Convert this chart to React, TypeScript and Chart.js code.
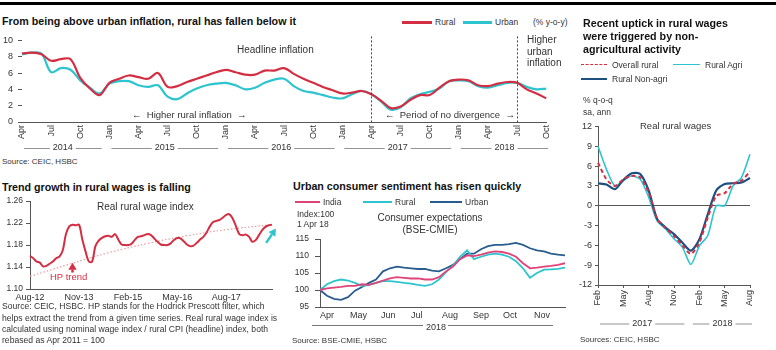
import React, { useEffect, useRef } from "react";
import { Chart, registerables } from "chart.js";

Chart.register(...registerables);

const FONT = "'Liberation Sans', Arial, Helvetica, sans-serif";
Chart.defaults.font.family = FONT;
Chart.defaults.color = "#333";

const RED = "#d42e43";
const CYAN = "#2cc4cf";
const NAVY = "#1d4f80";
const PINK = "#e0437a";
const TEXT = "#333";
const AXIS = "#555";

const MONTHS = ["Jan", "Feb", "Mar", "Apr", "May", "Jun", "Jul", "Aug", "Sep", "Oct", "Nov", "Dec"];
function monthLabels(year: number, month: number, count: number): string[] {
  const out: string[] = [];
  for (let i = 0; i < count; i++) {
    const m = (month + i) % 12;
    const y = year + Math.floor((month + i) / 12);
    out.push(`${MONTHS[m]} ${y}`);
  }
  return out;
}

// ---------- Panel 1: rural vs urban inflation (Apr 2014 - Oct 2018) ----------
const inflLabels = monthLabels(2014, 3, 55);
const ruralInfl = [
  8.4, 8.5, 8.3, 7.5, 7.7, 7.7, 5.4, 4.1, 3.3,
  4.8, 5.3, 5.7, 5.5, 5.3, 6.0, 4.3, 4.4, 4.9, 5.3, 5.7, 6.1,
  6.4, 6.1, 5.8, 5.8, 6.3, 6.3, 6.6, 5.9, 5.3, 4.8, 4.3, 3.9,
  3.5, 3.6, 3.8, 3.4, 2.6, 1.7, 1.9, 2.7, 3.3, 3.3, 4.2, 5.0,
  5.2, 5.1, 4.5, 4.4, 4.7, 4.9, 4.8, 4.0, 3.5, 2.9,
];
const urbanInfl = [
  8.3, 8.5, 8.4, 6.1, 6.6, 6.4, 5.1, 4.2, 3.5,
  4.7, 5.0, 5.0, 4.5, 4.3, 4.5, 3.1, 2.8, 3.5, 4.1, 4.5, 4.7,
  4.8, 4.5, 4.0, 4.2, 4.8, 5.2, 5.3, 4.4, 3.8, 3.6, 3.3, 3.0,
  2.9, 3.4, 3.8, 3.4, 2.5, 1.5, 1.8, 2.9, 3.4, 3.7, 4.1, 5.0,
  5.1, 5.0, 4.4, 4.2, 4.5, 4.8, 4.8, 4.3, 4.0, 4.1,
];
const inflTickMonths = ["Jan", "Apr", "Jul", "Oct"];
const inflYears = ["2014", "2015", "2016", "2017", "2018"];
const inflDividers = ["Apr 2017", "Jul 2018"];

// ---------- Panel 2: real rural wages (Feb 2017 - Aug 2018) ----------
const wageLabels = monthLabels(2017, 1, 19);
const overallRural = [6.5, 4.0, 3.0, 4.0, 4.5, 4.3, 2.0, -2.0, -3.4, -4.6, -6.0, -7.3, -5.6, -1.8, 1.5, 1.9, 3.3, 3.8, 5.2];
const ruralAgri = [9.0, 5.5, 3.0, 3.8, 4.5, 4.0, 1.3, -2.3, -3.5, -5.0, -6.3, -8.9, -6.1, -4.5, 0.0, 0.0, 3.0, 4.3, 7.8];
const ruralNonAgri = [3.4, 3.2, 2.5, 3.9, 4.9, 4.8, 2.3, -2.0, -3.3, -4.3, -5.6, -6.8, -5.1, -1.3, 2.3, 3.3, 3.4, 3.5, 4.2];
const wageTickMonths = ["Feb", "May", "Aug", "Nov"];
const wageYears = ["2017", "2018"];

// ---------- Panel 3: real rural wage index (Aug 2012 - Oct 2018) ----------
const idxLabels = monthLabels(2012, 7, 75);
const realWageIdx = [
  1.160, 1.156, 1.150, 1.148, 1.141, 1.142, 1.146, 1.150, 1.156, 1.159,
  1.170, 1.200, 1.214, 1.217, 1.216, 1.217, 1.190, 1.168, 1.150, 1.150,
  1.178, 1.188, 1.193, 1.196, 1.197, 1.195, 1.200, 1.190, 1.181, 1.180,
  1.180, 1.182, 1.189, 1.195, 1.196, 1.198, 1.200, 1.198, 1.192, 1.186,
  1.181, 1.180, 1.180, 1.183, 1.189, 1.193, 1.192, 1.187, 1.181, 1.178,
  1.179, 1.184, 1.190, 1.195, 1.203, 1.214, 1.222, 1.224, 1.226, 1.230,
  1.235, 1.236, 1.228, 1.214, 1.200, 1.198, 1.199, 1.195, 1.186, 1.189,
  1.198, 1.207, 1.213, 1.216, 1.217,
];
const hpTrendMonths = ["Aug 2012", "Aug 2013", "Aug 2014", "Aug 2015", "Aug 2016", "Aug 2017", "Oct 2018"];
const hpTrend = [1.123, 1.145, 1.166, 1.183, 1.197, 1.208, 1.217];
const idxTickLabels = ["Aug-12", "Nov-13", "Feb-15", "May-16", "Aug-17"];

// ---------- Panel 4: consumer expectations (weekly, from 1 Apr 2018) ----------
const sentDays = [0, 7, 14, 21, 28, 35, 42, 49, 56, 63, 70, 77, 84, 91, 98, 105, 112, 119, 126, 133, 140, 147, 154, 161, 168, 175, 182, 189, 196, 203, 210, 217, 224, 231, 238, 245];
const sentIndia = [100.0, 100.5, 100.7, 100.9, 101.2, 101.2, 101.7, 101.5, 102.1, 102.8, 103.4, 103.8, 103.6, 103.4, 103.4, 103.1, 103.1, 103.8, 105.5, 106.9, 109.1, 110.2, 110.0, 110.4, 111.0, 111.4, 111.2, 110.7, 109.8, 107.9, 106.4, 106.6, 106.9, 107.1, 107.4, 107.9];
const sentRural = [100.0, 101.7, 102.6, 103.1, 102.8, 102.1, 101.2, 101.5, 102.1, 102.6, 102.6, 102.4, 102.1, 101.9, 101.5, 101.2, 101.7, 103.1, 105.3, 107.2, 109.8, 111.7, 109.1, 109.8, 110.4, 110.7, 110.4, 109.8, 108.5, 106.4, 103.6, 105.0, 106.0, 106.1, 106.2, 106.6];
const sentUrban = [100.0, 98.3, 97.4, 97.1, 97.9, 99.8, 100.9, 102.1, 103.1, 105.5, 106.4, 106.9, 106.6, 106.4, 106.2, 106.2, 105.7, 105.5, 106.4, 107.4, 109.1, 110.7, 110.7, 112.0, 112.9, 113.3, 113.3, 113.5, 113.9, 113.3, 112.3, 111.7, 111.4, 110.7, 110.4, 110.2];
const sentMonthStarts = [0, 30, 61, 91, 122, 153, 183, 214];
const sentMonthNames = ["Apr", "May", "Jun", "Jul", "Aug", "Sep", "Oct", "Nov"];

// ---------- helpers ----------
const base = {
  responsive: false,
  maintainAspectRatio: false,
  animation: false,
  events: [] as any[],
};
const noLegend = { legend: { display: false }, tooltip: { enabled: false } };

function yearBandPlugin(labels: string[], years: string[], yPx: number, fontSize: number) {
  return {
    id: "yearBands",
    afterDraw(chart: any) {
      const ctx = chart.ctx;
      const xs = chart.scales.x;
      ctx.save();
      ctx.font = `${fontSize}px ${FONT}`;
      ctx.fillStyle = TEXT;
      ctx.strokeStyle = "#777";
      ctx.lineWidth = 0.8;
      ctx.textAlign = "center";
      ctx.textBaseline = "middle";
      years.forEach((yr) => {
        const idx = labels.map((l, i) => (l.endsWith(yr) ? i : -1)).filter((i) => i >= 0);
        const x0 = xs.getPixelForValue(idx[0]) + 2;
        const x1 = xs.getPixelForValue(idx[idx.length - 1]) + 2;
        const cx = (x0 + x1) / 2;
        const hw = ctx.measureText(yr).width / 2 + 3;
        ctx.fillText(yr, cx, yPx);
        ctx.beginPath();
        ctx.moveTo(x0, yPx + 0.5);
        ctx.lineTo(cx - hw, yPx + 0.5);
        ctx.moveTo(cx + hw, yPx + 0.5);
        ctx.lineTo(x1, yPx + 0.5);
        ctx.stroke();
      });
      ctx.restore();
    },
  };
}

const inflDividerPlugin = {
  id: "dividers",
  afterDatasetsDraw(chart: any) {
    const { ctx, chartArea } = chart;
    const x = chart.scales.x;
    ctx.save();
    ctx.strokeStyle = "#444";
    ctx.lineWidth = 1;
    ctx.setLineDash([2, 2]);
    inflDividers.forEach((lbl) => {
      const px = Math.round(x.getPixelForValue(inflLabels.indexOf(lbl))) + 0.5;
      ctx.beginPath();
      ctx.moveTo(px, chartArea.top - 4);
      ctx.lineTo(px, chartArea.bottom);
      ctx.stroke();
    });
    ctx.restore();
  },
};

function drawArrow(ctx: CanvasRenderingContext2D, x0: number, y0: number, x1: number, y1: number, color: string, w: number, head: number) {
  const ang = Math.atan2(y1 - y0, x1 - x0);
  const bx = x1 - Math.cos(ang) * head;
  const by = y1 - Math.sin(ang) * head;
  ctx.save();
  ctx.strokeStyle = color;
  ctx.fillStyle = color;
  ctx.lineWidth = w;
  ctx.beginPath();
  ctx.moveTo(x0, y0);
  ctx.lineTo(bx, by);
  ctx.stroke();
  ctx.beginPath();
  ctx.moveTo(x1, y1);
  ctx.lineTo(bx + Math.cos(ang + Math.PI / 2) * head * 0.6, by + Math.sin(ang + Math.PI / 2) * head * 0.6);
  ctx.lineTo(bx + Math.cos(ang - Math.PI / 2) * head * 0.6, by + Math.sin(ang - Math.PI / 2) * head * 0.6);
  ctx.closePath();
  ctx.fill();
  ctx.restore();
}

const idxArrowPlugin = {
  id: "arrows",
  afterDatasetsDraw(chart: any) {
    const { ctx } = chart;
    const x = chart.scales.x;
    const y = chart.scales.y;
    drawArrow(ctx, x.getPixelForValue(13), y.getPixelForValue(1.130), x.getPixelForValue(13), y.getPixelForValue(1.148), RED, 2.5, 7);
    drawArrow(ctx, x.getPixelForValue(72.2), y.getPixelForValue(1.184), x.getPixelForValue(75.2), y.getPixelForValue(1.210), CYAN, 2.5, 7);
  },
};

// ---------- configs ----------
const inflConfig = (): any => ({
  type: "line",
  data: {
    labels: inflLabels,
    datasets: [
      { data: ruralInfl, borderColor: RED, borderWidth: 2.2, pointRadius: 0, tension: 0.35 },
      { data: urbanInfl, borderColor: CYAN, borderWidth: 2.2, pointRadius: 0, tension: 0.35 },
    ],
  },
  options: {
    ...base,
    plugins: noLegend,
    layout: { padding: { left: 0, right: 9, top: 7, bottom: 0 } },
    scales: {
      x: {
        grid: { drawOnChartArea: false, drawTicks: false },
        border: { display: true, color: AXIS, width: 1 },
        ticks: {
          autoSkip: false,
          minRotation: 90,
          maxRotation: 90,
          padding: 3,
          font: { size: 9 },
          color: TEXT,
          callback: (_v: any, i: number) => {
            const m = inflLabels[i].slice(0, 3);
            return inflTickMonths.includes(m) ? m : "";
          },
        },
        afterFit: (s: any) => { s.height = 33; },
      },
      y: {
        min: 0,
        max: 10,
        ticks: { stepSize: 2, padding: 5, font: { size: 9 }, color: TEXT },
        grid: { drawOnChartArea: false, tickLength: 4, color: AXIS },
        border: { display: false },
        afterFit: (s: any) => { s.width = 22; },
      },
    },
  },
  plugins: [inflDividerPlugin, yearBandPlugin(inflLabels, inflYears, 118, 9)],
});

const wageConfig = (): any => ({
  type: "line",
  data: {
    labels: wageLabels,
    datasets: [
      { data: overallRural, borderColor: RED, borderWidth: 2, borderDash: [4, 3], pointRadius: 0, tension: 0.25 },
      { data: ruralNonAgri, borderColor: NAVY, borderWidth: 2.2, pointRadius: 0, tension: 0.25 },
      { data: ruralAgri, borderColor: CYAN, borderWidth: 1.6, pointRadius: 0, tension: 0.25 },
    ],
  },
  options: {
    ...base,
    plugins: noLegend,
    layout: { padding: { left: 0, right: 20, top: 8, bottom: 0 } },
    scales: {
      x: {
        grid: {
          drawOnChartArea: false,
          drawTicks: true,
          tickLength: 3,
          tickColor: (c: any) => (wageTickMonths.includes(wageLabels[c.index]?.slice(0, 3)) ? AXIS : "rgba(0,0,0,0)"),
        },
        border: { display: true, color: AXIS },
        ticks: {
          autoSkip: false,
          minRotation: 90,
          maxRotation: 90,
          padding: 2,
          font: { size: 9 },
          color: TEXT,
          callback: (_v: any, i: number) => {
            const m = wageLabels[i].slice(0, 3);
            return wageTickMonths.includes(m) ? m : "";
          },
        },
        afterFit: (s: any) => { s.height = 43; },
      },
      y: {
        min: -12,
        max: 12,
        ticks: { stepSize: 3, padding: 3, font: { size: 9 }, color: TEXT },
        grid: {
          tickLength: 3,
          tickColor: AXIS,
          color: (c: any) => (c.tick && c.tick.value === 0 ? AXIS : "rgba(0,0,0,0)"),
        },
        border: { display: true, color: AXIS },
        afterFit: (s: any) => { s.width = 33; },
      },
    },
  },
  plugins: [yearBandPlugin(wageLabels, wageYears, 205.5, 9)],
});

const idxConfig = (): any => ({
  type: "line",
  data: {
    labels: idxLabels,
    datasets: [
      { data: realWageIdx, borderColor: RED, borderWidth: 2, pointRadius: 0, tension: 0.35 },
      {
        data: hpTrendMonths.map((m, i) => ({ x: m, y: hpTrend[i] })),
        borderColor: "#eb9c9c",
        borderWidth: 1.2,
        borderDash: [1.5, 2],
        pointRadius: 0,
        tension: 0.4,
      },
    ],
  },
  options: {
    ...base,
    plugins: noLegend,
    layout: { padding: { left: 0, right: 13, top: 8, bottom: 0 } },
    scales: {
      x: {
        grid: { drawOnChartArea: false, drawTicks: false },
        border: { display: true, color: AXIS },
        ticks: {
          autoSkip: false,
          maxRotation: 0,
          minRotation: 0,
          padding: 3,
          font: { size: 9 },
          color: TEXT,
          callback: (_v: any, i: number) => {
            const l = idxLabels[i];
            const s = l.slice(0, 3) + "-" + l.slice(-2);
            return idxTickLabels.includes(s) ? s : "";
          },
        },
        afterFit: (s: any) => { s.height = 16; },
      },
      y: {
        min: 1.1,
        max: 1.26,
        ticks: { stepSize: 0.02, padding: 3, font: { size: 8.5 }, color: TEXT, callback: (v: any) => Number(v).toFixed(2) },
        grid: { drawOnChartArea: false, tickLength: 4, color: AXIS },
        border: { display: true, color: AXIS },
        afterFit: (s: any) => { s.width = 30; },
      },
    },
  },
  plugins: [idxArrowPlugin],
});

const sentConfig = (): any => ({
  type: "line",
  data: {
    datasets: [
      { data: sentDays.map((d, i) => ({ x: d, y: sentIndia[i] })), borderColor: PINK, borderWidth: 1.8, pointRadius: 0, tension: 0 },
      { data: sentDays.map((d, i) => ({ x: d, y: sentRural[i] })), borderColor: CYAN, borderWidth: 1.8, pointRadius: 0, tension: 0 },
      { data: sentDays.map((d, i) => ({ x: d, y: sentUrban[i] })), borderColor: "#2a5d8f", borderWidth: 1.8, pointRadius: 0, tension: 0 },
    ],
  },
  options: {
    ...base,
    plugins: noLegend,
    layout: { padding: { left: 0, right: 5, top: 9, bottom: 0 } },
    scales: {
      x: {
        type: "linear",
        min: 0,
        max: 245,
        afterBuildTicks: (s: any) => { s.ticks = sentMonthStarts.map((v) => ({ value: v })); },
        grid: { drawOnChartArea: false, drawTicks: false },
        border: { display: true, color: AXIS },
        ticks: {
          align: "start",
          maxRotation: 0,
          padding: 3,
          font: { size: 9 },
          color: TEXT,
          callback: (v: any) => {
            const i = sentMonthStarts.indexOf(v);
            return i >= 0 ? sentMonthNames[i] : "";
          },
        },
        afterFit: (s: any) => { s.height = 17; },
      },
      y: {
        min: 95,
        max: 115,
        ticks: { stepSize: 5, padding: 6, font: { size: 8.5 }, color: TEXT },
        grid: { drawOnChartArea: false, tickLength: 5, color: AXIS },
        border: { display: true, color: AXIS },
        afterFit: (s: any) => { s.width = 35; },
      },
    },
  },
});

// ---------- components ----------
function ChartBox(props: { left: number; top: number; width: number; height: number; config: () => any }) {
  const ref = useRef<HTMLCanvasElement>(null);
  useEffect(() => {
    const chart = new Chart(ref.current as HTMLCanvasElement, props.config());
    return () => chart.destroy();
  }, []);
  return (
    <canvas
      ref={ref}
      width={props.width}
      height={props.height}
      style={{ position: "absolute", left: props.left, top: props.top, width: props.width, height: props.height }}
    />
  );
}

// y = vertical centre of the first line of text
function T(props: { x: number; y: number; s?: number; bold?: boolean; c?: string; lh?: number; children: any }) {
  const s = props.s ?? 8.5;
  const lh = props.lh ?? s * 1.2;
  return (
    <div
      style={{
        position: "absolute",
        left: props.x,
        top: props.y - lh / 2,
        fontSize: s,
        lineHeight: `${lh}px`,
        fontWeight: props.bold ? 700 : 400,
        color: props.c ?? (props.bold ? "#111" : TEXT),
        whiteSpace: "pre",
        fontFamily: FONT,
      }}
    >
      {props.children}
    </div>
  );
}

function L(props: { x1: number; x2: number; y: number; c: string; h?: number; dash?: boolean }) {
  const h = props.h ?? 2;
  return (
    <div
      style={{
        position: "absolute",
        left: props.x1,
        top: props.y - h / 2,
        width: props.x2 - props.x1,
        height: 0,
        borderTop: `${h}px ${props.dash ? "dashed" : "solid"} ${props.c}`,
      }}
    />
  );
}

export default function App() {
  return (
    <div style={{ position: "fixed", left: 0, top: 0, width: 776, height: 350, background: "#fff", overflow: "hidden", fontFamily: FONT }}>
      <div style={{ position: "absolute", left: 0, top: 2, width: 776, height: 3, background: "#000" }} />

      {/* Panel 1 */}
      <T x={2} y={21} s={10.7} bold>From being above urban inflation, rural has fallen below it</T>
      <L x1={402} x2={432} y={22} c={RED} h={3} />
      <T x={435} y={22}>Rural</T>
      <L x1={463} x2={492} y={22} c={CYAN} h={3} />
      <T x={495} y={22}>Urban</T>
      <T x={533} y={22}>(% y-o-y)</T>
      <ChartBox left={0} top={30} width={560} height={125} config={inflConfig} />
      <T x={237} y={50} s={10}>Headline inflation</T>
      <T x={132} y={115} s={9.5}>{"\u2190  Higher rural inflation  \u2192"}</T>
      <T x={385} y={115} s={9.5}>{"\u2190  Period of no divergence  \u2192"}</T>
      <T x={527} y={40} s={10} lh={11.3}>{"Higher\nurban\ninflation"}</T>
      <T x={2} y={162} s={8}>Source: CEIC, HSBC</T>

      {/* Panel 2 */}
      <T x={583} y={23} s={10.7} bold lh={13}>{"Recent uptick in rural wages\nwere triggered by non-\nagricultural activity"}</T>
      <L x1={581} x2={607} y={65} c={RED} h={1.5} dash />
      <T x={612} y={65}>Overall rural</T>
      <L x1={673} x2={700} y={65} c={CYAN} h={1.5} />
      <T x={705} y={65}>Rural Agri</T>
      <L x1={581} x2={607} y={79} c={NAVY} h={2.5} />
      <T x={612} y={79}>Rural Non-agri</T>
      <T x={583} y={100}>% q-o-q</T>
      <T x={583} y={112}>sa, ann</T>
      <ChartBox left={565} top={118} width={205} height={210} config={wageConfig} />
      <T x={640} y={126} s={9.5}>Real rural wages</T>
      <T x={580} y={340} s={8}>Sources: CEIC, HSBC</T>

      {/* Panel 3 */}
      <T x={2} y={187} s={10.7} bold>Trend growth in rural wages is falling</T>
      <ChartBox left={0} top={193} width={285} height={112} config={idxConfig} />
      <T x={97} y={207} s={10}>Real rural wage index</T>
      <T x={50} y={277} s={9.5} c={RED}>HP trend</T>
      <T x={2} y={307} s={8.6} lh={11.3}>
        {"Source: CEIC, HSBC. HP stands for the Hodrick Prescott filter, which\nhelps extract the trend from a given time series. Real rural wage index is\ncalculated using nominal wage index / rural CPI (headline) index, both\nrebased as Apr 2011 = 100"}
      </T>

      {/* Panel 4 */}
      <T x={293} y={186} s={10.7} bold>Urban consumer sentiment has risen quickly</T>
      <L x1={295} x2={320} y={202} c={PINK} h={2} />
      <T x={323} y={202}>India</T>
      <L x1={363} x2={392} y={202} c={CYAN} h={2} />
      <T x={395} y={202}>Rural</T>
      <L x1={430} x2={462} y={202} c="#2a5d8f" h={2} />
      <T x={465} y={202}>Urban</T>
      <T x={297} y={214} lh={10.5}>{"Index:100\n1 Apr 18"}</T>
      <div style={{ position: "absolute", left: 370, top: 212, width: 120, textAlign: "center", fontSize: 10, lineHeight: "11.5px", color: TEXT }}>
        Consumer expectations
        <br />
        (BSE-CMIE)
      </div>
      <ChartBox left={285} top={228} width={285} height={96} config={sentConfig} />
      <L x1={312} x2={423} y={325} c="#777" h={1} />
      <T x={426} y={327} s={9}>2018</T>
      <L x1={448} x2={553} y={325} c="#777" h={1} />
      <T x={292} y={341} s={8}>Source: BSE-CMIE, HSBC</T>
    </div>
  );
}
